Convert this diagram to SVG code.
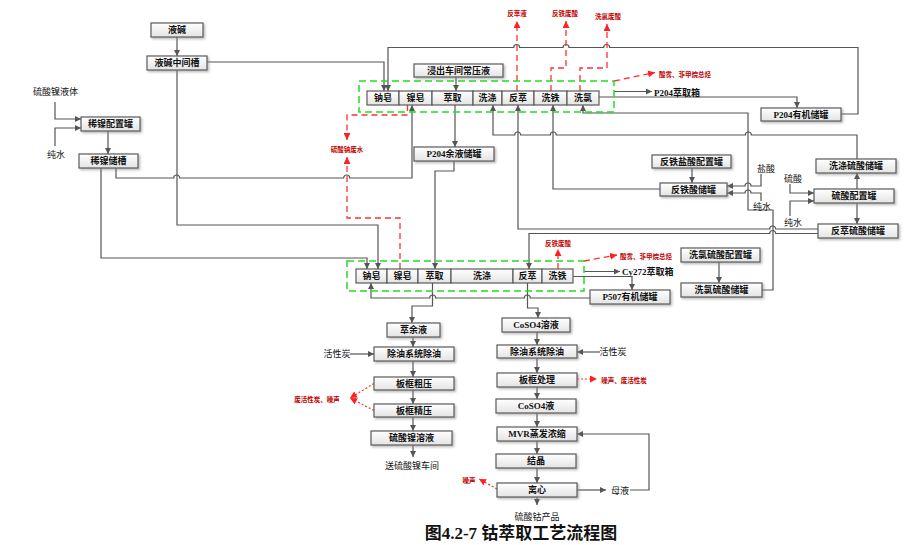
<svg xmlns="http://www.w3.org/2000/svg" width="917" height="545" viewBox="0 0 917 545">
<style>
.b{fill:url(#gb);stroke:#5a5a5a;stroke-width:1.2;filter:url(#sh)}
.c{fill:url(#gb);stroke:#5a5a5a;stroke-width:1.2}
.t{font-family:"Liberation Serif","Noto Sans CJK SC",serif;font-size:9px;font-weight:bold;fill:#111;text-anchor:middle;dominant-baseline:central}
.l{font-family:"Liberation Serif","Noto Sans CJK SC",serif;font-size:9px;fill:#111;text-anchor:middle;dominant-baseline:central}
.ls{font-family:"Liberation Serif","Noto Sans CJK SC",serif;font-size:9px;font-weight:bold;fill:#111;dominant-baseline:central}
.r{font-family:"Liberation Serif","Noto Sans CJK SC",serif;font-size:6.5px;font-weight:bold;fill:#c00000;text-anchor:middle;dominant-baseline:central}
.ln{fill:none;stroke:#555;stroke-width:1.2}
.a{marker-end:url(#ag)}
.rd{fill:none;stroke:#ff3030;stroke-width:1.3;stroke-dasharray:6 4;marker-end:url(#ar)}
.rt{fill:none;stroke:#ff3030;stroke-width:1.2;stroke-dasharray:2 2;marker-end:url(#ar)}
.gd{fill:none;stroke:#22dd22;stroke-width:1.5;stroke-dasharray:7 4}
.ti{font-family:"Liberation Serif","Noto Sans CJK SC",serif;font-size:17px;font-weight:bold;fill:#111;text-anchor:middle;dominant-baseline:central}
</style>
<defs>
<linearGradient id="gb" x1="0" y1="0" x2="0" y2="1"><stop offset="0" stop-color="#ffffff"/><stop offset="1" stop-color="#e4e4e4"/></linearGradient>
<filter id="sh" x="-10%" y="-30%" width="130%" height="180%"><feDropShadow dx="1.5" dy="1.5" stdDeviation="1" flood-color="#888" flood-opacity="0.6"/></filter>
<marker id="ag" viewBox="0 0 8 8" refX="8" refY="4" markerWidth="6" markerHeight="6" markerUnits="userSpaceOnUse" orient="auto"><path d="M0,0 L8,4 L0,8 z" fill="#555"/></marker>
<marker id="ar" viewBox="0 0 8 8" refX="8" refY="4" markerWidth="7" markerHeight="7" markerUnits="userSpaceOnUse" orient="auto"><path d="M0,0 L8,4 L0,8 z" fill="#ff2020"/></marker>
</defs>
<rect width="917" height="545" fill="#fff"/>

<g id="connectors">
<path class="ln a" d="M177,37 V56"/>
<path class="ln a" d="M207,62 H384 V91"/>
<path class="ln a" d="M177,70 V225 H378 V269"/>
<path class="ln a" d="M55,102 V119 H81"/>
<path class="ln a" d="M55,146 V128 H81"/>
<path class="ln a" d="M108,131 V154"/>
<path class="ln a" d="M116,168 V178 H173.7 a3,3 0 0 1 6,0 H343.7 a3,3 0 0 1 6,0 H412 V105"/>
<path class="ln a" d="M101,168 V258 H367 V269"/>
<path class="ln a" d="M456,77 V91"/>
<path class="ln a" d="M841,114 H858 V47.5 H609.7 a3,3 0 0 0 -6,0 H569 a3,3 0 0 0 -6,0 H519.7 a3,3 0 0 0 -6,0 H388 V91"/>
<path class="ln a" d="M599,97 H797 V108"/>
<path class="ln a" d="M614,91.5 H652"/>
<path class="ln a" d="M455,105 V147"/>
<path class="ln a" d="M454,161 V171 H435 V269"/>
<path class="ln a" d="M857,159 V135 H751.3 a3,3 0 0 0 -6,0 H556.3 a3,3 0 0 0 -6,0 H520.7 a3,3 0 0 0 -6,0 H493 V105"/>
<path class="ln a" d="M818,229 H775.7 a3,3 0 0 0 -6,0 H518 V105"/>
<path class="ln a" d="M818,233.5 H775.7 a3,3 0 0 0 -6,0 H529 V269"/>
<path class="ln a" d="M660,189 H553 V105"/>
<path class="ln a" d="M762,290 H773 V210 H748 V113 H583 V105"/>
<path class="ln a" d="M692,168 V183"/>
<path class="ln a" d="M761,174 V186 H751 a3,3 0 0 0 -6,0 H727"/>
<path class="ln a" d="M761,201 V193 H751 a3,3 0 0 0 -6,0 H727"/>
<path class="ln a" d="M790,184 V193 H814"/>
<path class="ln a" d="M790,216 V201 H814"/>
<path class="ln a" d="M857,189 V173"/>
<path class="ln a" d="M857,203 V224"/>
<path class="ln a" d="M719,262 V283"/>
<path class="ln a" d="M573,276.5 H632 V290"/>
<path class="ln a" d="M584,271.5 H620"/>
<path class="ln a" d="M590,298 H530.3 a3,3 0 0 0 -6,0 H435.7 a3,3 0 0 0 -6,0 H371 V283"/>
<path class="ln a" d="M432.5,283 V306 H412 V323"/>
<path class="ln a" d="M527.5,283 V308 H538 V318"/>
<path class="ln a" d="M413,337 V347"/>
<path class="ln a" d="M413,361 V377"/>
<path class="ln a" d="M413,390 V404"/>
<path class="ln a" d="M413,417 V431"/>
<path class="ln a" d="M413,445 V457"/>
<path class="ln a" d="M350,354 H374"/>
<path class="ln a" d="M537,332 V345"/>
<path class="ln a" d="M537,358 V373"/>
<path class="ln a" d="M537,387 V399"/>
<path class="ln a" d="M537,413 V427"/>
<path class="ln a" d="M537,441 V454"/>
<path class="ln a" d="M537,468 V483"/>
<path class="ln a" d="M537,497 V505"/>
<path class="ln a" d="M600,352 H577"/>
<path class="ln a" d="M577,490 H606"/>
<path class="ln a" d="M630,490 H649 V434 H577"/>
<path class="rd" d="M517,91 V21"/>
<path class="rd" d="M551,91 V68 H566 V21"/>
<path class="rd" d="M580,91 V68 H607 V24"/>
<path class="rd" d="M614,81 L655,72.5"/>
<path class="rd" d="M407.5,105 V115 H347 V140"/>
<path class="rd" d="M400,269 V218 H347 V157"/>
<path class="rd" d="M558,269 V249"/>
<path class="rd" d="M584,261 L617,255"/>
<path class="rt" d="M374,383.5 L350,398"/>
<path class="rt" d="M374,410.5 L350,398"/>
<path class="rt" d="M577,379 H597"/>
<path class="rt" d="M497,489 L479,479"/>
<rect class="gd" x="359" y="81" width="255" height="31"/>
<rect class="gd" x="347" y="261" width="237" height="30"/>
</g>

<g id="n-yj"><rect class="b" x="151" y="23" width="52" height="14"/><text class="t" x="177" y="30">液碱</text></g>
<g id="n-yjzj"><rect class="b" x="147" y="56" width="60" height="14"/><text class="t" x="177" y="63">液碱中间槽</text></g>
<g id="n-xnpz"><rect class="b" x="81" y="117" width="59" height="14"/><text class="t" x="110.5" y="124">稀镍配置罐</text></g>
<g id="n-xncc"><rect class="b" x="79" y="154" width="59" height="14"/><text class="t" x="108.5" y="161">稀镍储槽</text></g>
<g id="n-jc"><rect class="b" x="414" y="64" width="89" height="13"/><text class="t" x="458.5" y="70.5">浸出车间常压液</text></g>

<g id="r1-nz"><rect class="c" x="367" y="91" width="32" height="14"/><text class="t" x="383" y="98">钠皂</text></g>
<g id="r1-niz"><rect class="c" x="399" y="91" width="33" height="14"/><text class="t" x="415.5" y="98">镍皂</text></g>
<g id="r1-cq"><rect class="c" x="432" y="91" width="41" height="14"/><text class="t" x="452.5" y="98">萃取</text></g>
<g id="r1-xd"><rect class="c" x="473" y="91" width="29" height="14"/><text class="t" x="487.5" y="98">洗涤</text></g>
<g id="r1-fc"><rect class="c" x="502" y="91" width="32" height="14"/><text class="t" x="518" y="98">反萃</text></g>
<g id="r1-xt"><rect class="c" x="534" y="91" width="33" height="14"/><text class="t" x="550.5" y="98">洗铁</text></g>
<g id="r1-xl"><rect class="c" x="567" y="91" width="32" height="14"/><text class="t" x="583" y="98">洗氯</text></g>

<g id="n-p204yj"><rect class="b" x="761" y="108" width="80" height="13"/><text class="t" x="801" y="114.5">P204有机储罐</text></g>
<g id="n-p204yy"><rect class="b" x="414" y="147" width="80" height="14"/><text class="t" x="454" y="154">P204余液储罐</text></g>
<g id="n-ftyspz"><rect class="b" x="652" y="155" width="79" height="13"/><text class="t" x="691.5" y="161.5">反铁盐酸配置罐</text></g>
<g id="n-ftscg"><rect class="b" x="660" y="183" width="67" height="13"/><text class="t" x="693.5" y="189.5">反铁酸储罐</text></g>
<g id="n-xdls"><rect class="b" x="816" y="159" width="80" height="14"/><text class="t" x="856" y="166">洗涤硫酸储罐</text></g>
<g id="n-lspz"><rect class="b" x="814" y="189" width="80" height="14"/><text class="t" x="854" y="196">硫酸配置罐</text></g>
<g id="n-fcls"><rect class="b" x="818" y="224" width="80" height="14"/><text class="t" x="858" y="231">反萃硫酸储罐</text></g>
<g id="n-xllspz"><rect class="b" x="681" y="248" width="79" height="14"/><text class="t" x="720.5" y="255">洗氯硫酸配置罐</text></g>
<g id="n-xllscg"><rect class="b" x="681" y="283" width="81" height="14"/><text class="t" x="721.5" y="290">洗氯硫酸储罐</text></g>

<g id="r2-nz"><rect class="c" x="356" y="269" width="31" height="14"/><text class="t" x="371.5" y="276">钠皂</text></g>
<g id="r2-niz"><rect class="c" x="387" y="269" width="31" height="14"/><text class="t" x="402.5" y="276">镍皂</text></g>
<g id="r2-cq"><rect class="c" x="418" y="269" width="33" height="14"/><text class="t" x="434.5" y="276">萃取</text></g>
<g id="r2-xd"><rect class="c" x="451" y="269" width="62" height="14"/><text class="t" x="482" y="276">洗涤</text></g>
<g id="r2-fc"><rect class="c" x="513" y="269" width="29" height="14"/><text class="t" x="527.5" y="276">反萃</text></g>
<g id="r2-xt"><rect class="c" x="542" y="269" width="31" height="14"/><text class="t" x="557.5" y="276">洗铁</text></g>

<g id="n-p507"><rect class="b" x="590" y="290" width="80" height="14"/><text class="t" x="630" y="297">P507有机储罐</text></g>
<g id="n-cyy"><rect class="b" x="387" y="323" width="53" height="14"/><text class="t" x="413.5" y="330">萃余液</text></g>
<g id="n-cy1"><rect class="b" x="374" y="347" width="80" height="14"/><text class="t" x="414" y="354">除油系统除油</text></g>
<g id="n-bkcy"><rect class="b" x="374" y="377" width="80" height="13"/><text class="t" x="414" y="383.5">板框粗压</text></g>
<g id="n-bkjy"><rect class="b" x="374" y="404" width="80" height="13"/><text class="t" x="414" y="410.5">板框精压</text></g>
<g id="n-lsnry"><rect class="b" x="371" y="431" width="81" height="14"/><text class="t" x="411.5" y="438">硫酸镍溶液</text></g>
<g id="n-coso4ry"><rect class="b" x="502" y="318" width="68" height="14"/><text class="t" x="536" y="325">CoSO4溶液</text></g>
<g id="n-cy2"><rect class="b" x="497" y="345" width="80" height="13"/><text class="t" x="537" y="351.5">除油系统除油</text></g>
<g id="n-bkcl"><rect class="b" x="497" y="373" width="80" height="14"/><text class="t" x="537" y="380">板框处理</text></g>
<g id="n-coso4y"><rect class="b" x="496" y="399" width="80" height="14"/><text class="t" x="536" y="406">CoSO4液</text></g>
<g id="n-mvr"><rect class="b" x="497" y="427" width="80" height="14"/><text class="t" x="537" y="434">MVR蒸发浓缩</text></g>
<g id="n-jj"><rect class="b" x="496" y="454" width="80" height="14"/><text class="t" x="536" y="461">结晶</text></g>
<g id="n-lx"><rect class="b" x="497" y="483" width="80" height="14"/><text class="t" x="537" y="490">离心</text></g>

<g id="labels">
<text class="l" x="55.5" y="92">硫酸镍液体</text>
<text class="l" x="56" y="155">纯水</text>
<text class="l" x="766" y="169">盐酸</text>
<text class="l" x="762" y="207">纯水</text>
<text class="l" x="793" y="179">硫酸</text>
<text class="l" x="793" y="223">纯水</text>
<text class="ls" x="654" y="92.5">P204萃取箱</text>
<text class="ls" x="622" y="272">Cy272萃取箱</text>
<text class="l" x="337" y="354">活性炭</text>
<text class="l" x="613" y="352">活性炭</text>
<text class="l" x="620" y="491">母液</text>
<text class="l" x="412" y="466">送硫酸镍车间</text>
<text class="l" x="537" y="517">硫酸钴产品</text>
<text class="r" x="517" y="13">反萃液</text>
<text class="r" x="565" y="13">反铁废酸</text>
<text class="r" x="608" y="16">洗氯废酸</text>
<text class="r" x="685" y="74">酸雾、非甲烷总烃</text>
<text class="r" x="347" y="149">硫酸钠废水</text>
<text class="r" x="558" y="243">反铁废酸</text>
<text class="r" x="646" y="256">酸雾、非甲烷总烃</text>
<text class="r" x="317" y="399">废活性炭、噪声</text>
<text class="r" x="624" y="380">噪声、废活性炭</text>
<text class="r" x="469" y="480">噪声</text>
<text class="ti" x="521" y="533">图4.2-7  钴萃取工艺流程图</text>
</g>
</svg>
